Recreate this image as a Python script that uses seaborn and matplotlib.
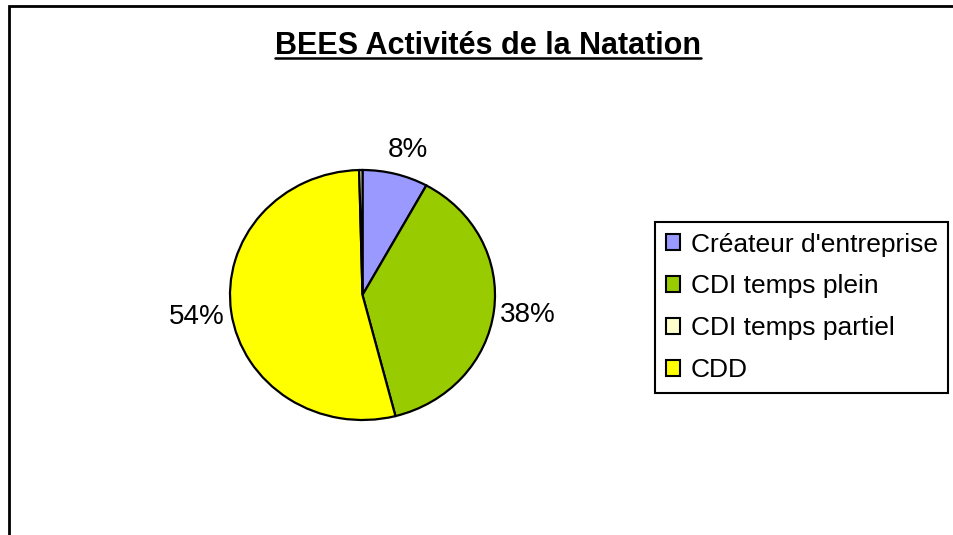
import matplotlib
matplotlib.use("Agg")
import matplotlib.pyplot as plt
import seaborn as sns
from matplotlib.patches import Patch, Rectangle
from matplotlib.lines import Line2D

# data
categories = ["Créateur d'entreprise", "CDI temps plein", "CDI temps partiel", "CDD"]
shares = [8, 38, 0.4, 53.6]
colours = ["#9999FF", "#99CC00", "#FFFFCC", "#FFFF00"]
# the thin "temps partiel" sliver sits at 12 o'clock in the original
pie_order = [0, 1, 3, 2]
title = "BEES Activités de la Natation"

sns.set_theme(style="white")
plt.rcParams['font.family'] = ['Liberation Sans', 'DejaVu Sans']

W, H = 954, 535
fig = plt.figure(figsize=(W / 100, H / 100), dpi=100)
fig.patch.set_facecolor("white")

# pie occupies x 230..495, y 170..420 (pixels from top)
ax = fig.add_axes([230 / W, 1 - 420 / H, 265 / W, 250 / H])
palette = sns.color_palette(colours)


def pct(p):
    return f"{p:.0f}%" if p >= 1 else ""


wedges, texts, autotexts = ax.pie(
    [shares[i] for i in pie_order],
    colors=[palette[i] for i in pie_order],
    startangle=90,
    counterclock=False,
    autopct=pct,
    pctdistance=1.26,
    wedgeprops=dict(edgecolor="black", linewidth=1.6),
    textprops=dict(fontsize=20, color="black"),
)
# small label on top sits a bit closer to the rim
x0, y0 = autotexts[0].get_position()
autotexts[0].set_position((x0 * 1.09, y0 * 0.95))
ax.set_aspect("auto")
ax.set_xlim(-1, 1)
ax.set_ylim(-1, 1)
ax.axis("off")

# title, underlined
t = fig.text(488 / W, 1 - 46 / H, title, ha="center", va="center",
             fontsize=22, fontweight="bold", color="black")
fig.canvas.draw()
bb = t.get_window_extent(renderer=fig.canvas.get_renderer())
uy = 1 - 58 / H
fig.add_artist(Line2D([bb.x0 / W, bb.x1 / W], [uy, uy],
                      transform=fig.transFigure, color="black", lw=1.8))

# legend
handles = [Patch(facecolor=c, edgecolor="black", linewidth=1.5) for c in palette]
leg = fig.legend(handles, categories, loc="upper left",
                 bbox_to_anchor=(655 / W, 1 - 222 / H), borderaxespad=0,
                 fontsize=19, frameon=True, fancybox=False, shadow=False,
                 handlelength=0.55, handleheight=0.55, handletextpad=0.4,
                 labelspacing=0.68, borderpad=0.4, labelcolor="black")
leg.get_frame().set_edgecolor("black")
leg.get_frame().set_linewidth(1.5)
leg.get_frame().set_alpha(1)

# outer chart-area border (cut off at right and bottom)
fig.add_artist(Rectangle((9 / W, -0.1), 2, 1 - 6 / H + 0.1,
                         transform=fig.transFigure, fill=False,
                         edgecolor="black", lw=2))

fig.savefig("out.png", dpi=100)
